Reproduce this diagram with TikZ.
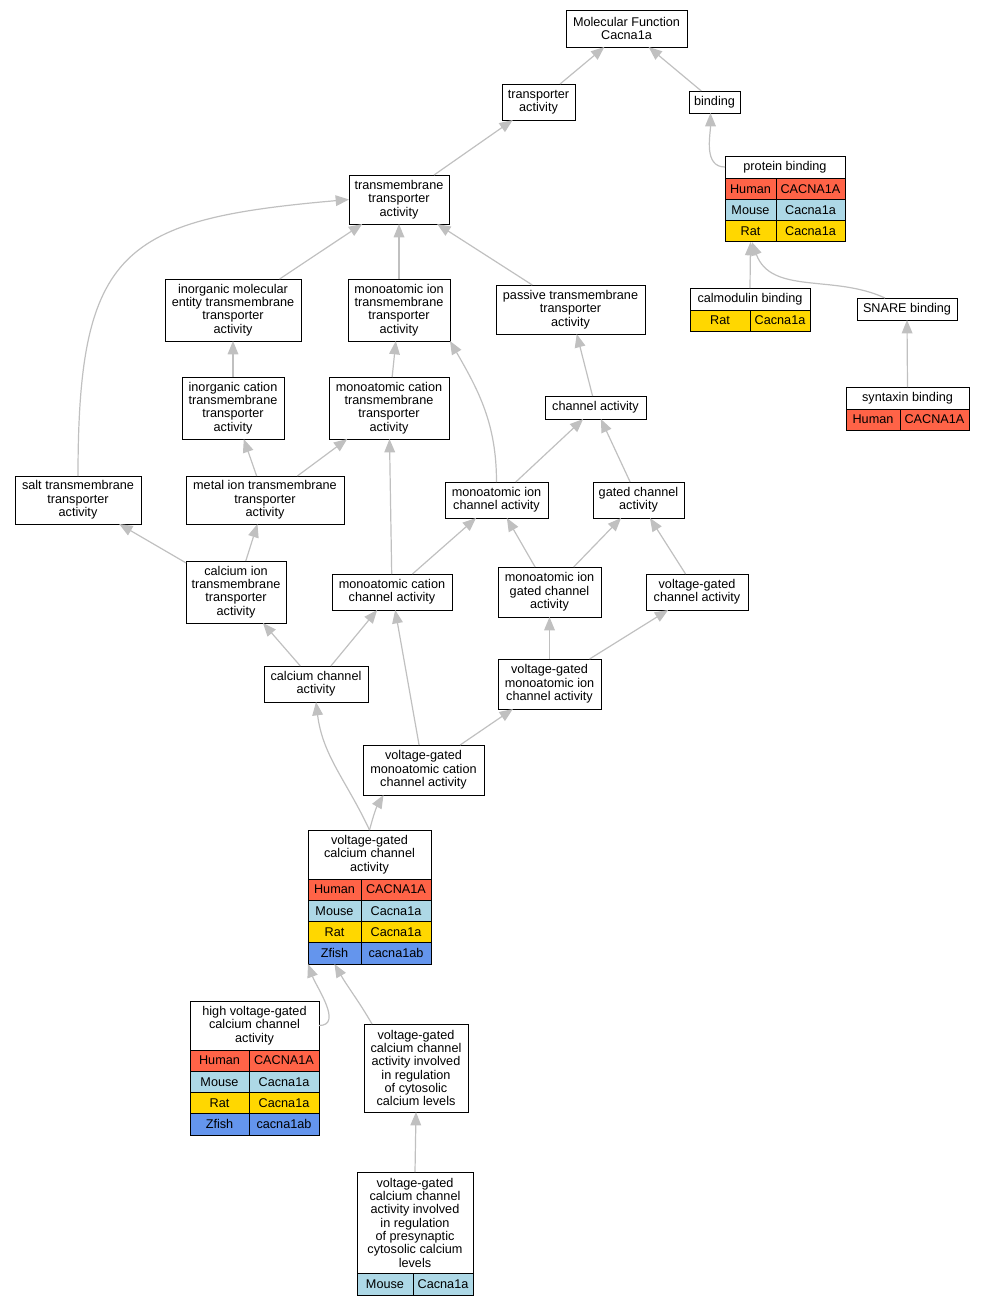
\documentclass[tikz,border=0pt]{standalone}
\usepackage{fontspec}
\setmainfont{Liberation Sans}
\usetikzlibrary{arrows.meta}
\definecolor{human}{HTML}{FF6347}
\definecolor{mouse}{HTML}{ADD8E6}
\definecolor{rat}{HTML}{FFD700}
\definecolor{zfish}{HTML}{6495ED}
\definecolor{edgegray}{HTML}{C0C0C0}
\begin{document}
\begin{tikzpicture}
  [x=0.75pt,y=0.75pt,
    every node/.style={font=\fontsize{9.5}{10}\selectfont},
    box/.style={draw,line width=0.7pt,fill=white,align=center,inner sep=0pt,outer sep=0pt},
    sz/.style 2 args={minimum width=#1*0.75pt,minimum height=#2*0.75pt},
    cell/.style={box,fill=#1},
    edge/.style={draw=edgegray,line width=0.9pt,-{Triangle[length=10pt,width=8pt]}},
]
  \useasboundingbox (0,0) rectangle (985,-1307);

  % top of the ontology
  \node[box,sz={121}{37}] (mf) at (626.5,-28.5) {Molecular Function\\Cacna1a};
  \node[box,sz={73}{36}] (trans) at (538.5,-102) {transporter\\activity};
  \node[box,sz={51}{22}] (bind) at (714.5,-102) {binding};

  \node[box,sz={120}{22}] (pb) at (785,-167) {protein binding};
  \node[cell=human,sz={51}{21.3}] (pbhu1) at (750.5,-188.7) {Human};
  \node[cell=human,sz={69}{21.3}] (pbhu2) at (810.5,-188.7) {CACNA1A};
  \node[cell=mouse,sz={51}{21.3}] (pbmo1) at (750.5,-210) {Mouse};
  \node[cell=mouse,sz={69}{21.3}] (pbmo2) at (810.5,-210) {Cacna1a};
  \node[cell=rat,sz={51}{21.3}] (pbra1) at (750.5,-231.3) {Rat};
  \node[cell=rat,sz={69}{21.3}] (pbra2) at (810.5,-231.3) {Cacna1a};

  \node[box,sz={100}{49}] (tta) at (399,-199.5) {transmembrane\\transporter\\activity};
  \node[box,sz={136}{62}] (imet) at (233,-310) {inorganic molecular\\entity transmembrane\\transporter\\activity};
  \node[box,sz={102}{62}] (mitmta) at (399,-310) {monoatomic ion\\transmembrane\\transporter\\activity};
  \node[box,sz={149}{49}] (ptta) at (570.5,-309.5) {passive transmembrane\\transporter\\activity};

  \node[box,sz={120}{22}] (cal) at (750,-299) {calmodulin binding};
  \node[cell=rat,sz={60}{21}] (calra1) at (720,-320.5) {Rat};
  \node[cell=rat,sz={60}{21}] (calra2) at (780,-320.5) {Cacna1a};
  \node[box,sz={100}{22}] (snare) at (907,-309) {SNARE binding};
  \node[box,sz={123}{22}] (syn) at (907.5,-398) {syntaxin binding};
  \node[cell=human,sz={54}{21}] (synhu1) at (873,-419.5) {Human};
  \node[cell=human,sz={69}{21}] (synhu2) at (934.5,-419.5) {CACNA1A};

  \node[box,sz={102}{62}] (icat) at (233,-408) {inorganic cation\\transmembrane\\transporter\\activity};
  \node[box,sz={120}{62}] (mcat) at (389,-408) {monoatomic cation\\transmembrane\\transporter\\activity};
  \node[box,sz={101}{23}] (chan) at (595.5,-407.5) {channel activity};

  \node[box,sz={126}{48}] (salt) at (78,-500) {salt transmembrane\\transporter\\activity};
  \node[box,sz={158}{48}] (metal) at (265,-500) {metal ion transmembrane\\transporter\\activity};
  \node[box,sz={103}{36}] (mic) at (496.5,-500) {monoatomic ion\\channel activity};
  \node[box,sz={91}{36}] (gated) at (638.5,-500) {gated channel\\activity};

  \node[box,sz={100}{62}] (caion) at (236,-592) {calcium ion\\transmembrane\\transporter\\activity};
  \node[box,sz={120}{36}] (mcc) at (392,-592) {monoatomic cation\\channel activity};
  \node[box,sz={103}{50}] (migc) at (549.5,-592) {monoatomic ion\\gated channel\\activity};
  \node[box,sz={102}{36}] (vgc) at (697,-592) {voltage-gated\\channel activity};

  \node[box,sz={104}{36}] (cac) at (316,-684) {calcium channel\\activity};
  \node[box,sz={103}{50}] (vgmi) at (549.5,-684) {voltage-gated\\monoatomic ion\\channel activity};
  \node[box,sz={121}{50}] (vgmc) at (423.5,-770) {voltage-gated\\monoatomic cation\\channel activity};

  % voltage-gated calcium channel table
  \node[box,sz={123}{49}] (vgcc) at (369.5,-854.5) {voltage-gated\\calcium channel\\activity};
  \node[cell=human,sz={53}{21.25}] (vgcchu1) at (334.5,-889.6) {Human};
  \node[cell=human,sz={70}{21.25}] (vgcchu2) at (396,-889.6) {CACNA1A};
  \node[cell=mouse,sz={53}{21.25}] (vgccmo1) at (334.5,-910.9) {Mouse};
  \node[cell=mouse,sz={70}{21.25}] (vgccmo2) at (396,-910.9) {Cacna1a};
  \node[cell=rat,sz={53}{21.25}] (vgccra1) at (334.5,-932.1) {Rat};
  \node[cell=rat,sz={70}{21.25}] (vgccra2) at (396,-932.1) {Cacna1a};
  \node[cell=zfish,sz={53}{21.25}] (vgcczf1) at (334.5,-953.4) {Zfish};
  \node[cell=zfish,sz={70}{21.25}] (vgcczf2) at (396,-953.4) {cacna1ab};

  % high voltage-gated table
  \node[box,sz={129}{49}] (hv) at (254.5,-1025.5) {high voltage-gated\\calcium channel\\activity};
  \node[cell=human,sz={59}{21.25}] (hvhu1) at (219.5,-1060.6) {Human};
  \node[cell=human,sz={70}{21.25}] (hvhu2) at (284,-1060.6) {CACNA1A};
  \node[cell=mouse,sz={59}{21.25}] (hvmo1) at (219.5,-1081.9) {Mouse};
  \node[cell=mouse,sz={70}{21.25}] (hvmo2) at (284,-1081.9) {Cacna1a};
  \node[cell=rat,sz={59}{21.25}] (hvra1) at (219.5,-1103.1) {Rat};
  \node[cell=rat,sz={70}{21.25}] (hvra2) at (284,-1103.1) {Cacna1a};
  \node[cell=zfish,sz={59}{21.25}] (hvzf1) at (219.5,-1124.4) {Zfish};
  \node[cell=zfish,sz={70}{21.25}] (hvzf2) at (284,-1124.4) {cacna1ab};

  \node[box,sz={104}{88}] (reg) at (416,-1068) {voltage-gated\\calcium channel\\activity involved\\in regulation\\of cytosolic\\calcium levels};

  \node[box,sz={116}{101}] (pres) at (415,-1222.5) {voltage-gated\\calcium channel\\activity involved\\in regulation\\of presynaptic\\cytosolic calcium\\levels};
  \node[cell=mouse,sz={56}{22}] (presmo1) at (385,-1284) {Mouse};
  \node[cell=mouse,sz={60}{22}] (presmo2) at (443,-1284) {Cacna1a};

  % is_a edges
  \draw[edge] (trans) -- (mf);
  \draw[edge] (bind) -- (mf);
  \draw[edge] (tta) -- (trans);
  \draw[edge] (pb.west) to[out=180,in=-90] ([xshift=-3pt]bind.south);
  \draw[edge] (imet) -- (tta);
  \draw[edge] (mitmta) -- (tta);
  \draw[edge] (ptta) -- (tta);
  \draw[edge] (salt.north) to[out=90,in=185,looseness=1.5] (tta.west);
  \draw[edge] (cal.north) -- (pbra1.south);
  \draw[edge] ([xshift=-16.5pt]snare.north) to[out=155,in=-70] ([xshift=1pt]pbra1.south);
  \draw[edge] (syn.north) -- (snare.south);
  \draw[edge] (icat) -- (imet);
  \draw[edge] (mcat) -- (mitmta);
  \draw[edge] (chan) -- (ptta);
  \draw[edge] (metal) -- (icat);
  \draw[edge] (metal) -- (mcat);
  \draw[edge] (mic.north) to[out=90,in=-60] (mitmta.south east);
  \draw[edge] (mic) -- (chan);
  \draw[edge] (gated) -- (chan);
  \draw[edge] (caion) -- (salt);
  \draw[edge] (caion) -- (metal);
  \draw[edge] (mcc) -- (mic);
  \draw[edge] (mcc) -- (mcat);
  \draw[edge] (migc) -- (mic);
  \draw[edge] (migc) -- (gated);
  \draw[edge] (vgc) -- (gated);
  \draw[edge] (cac) -- (caion);
  \draw[edge] (cac) -- (mcc);
  \draw[edge] (vgmi) -- (migc);
  \draw[edge] (vgmi) -- (vgc);
  \draw[edge] (vgmc) -- (mcc);
  \draw[edge] (vgmc) -- (vgmi);
  \draw[edge] (vgcc.north) to[out=115,in=-83] (cac.south);
  \draw[edge] (vgcc.north) to[out=75,in=-120] ([xshift=-30pt]vgmc.south);
  \draw[edge] (hv.east) to[out=0,in=-70] (vgcczf1.south west);
  \draw[edge] ([xshift=6pt]reg.north west) to[out=120,in=-60] (vgcczf1.south);
  \draw[edge] (pres.north) -- (reg.south);

\end{tikzpicture}
\end{document}
